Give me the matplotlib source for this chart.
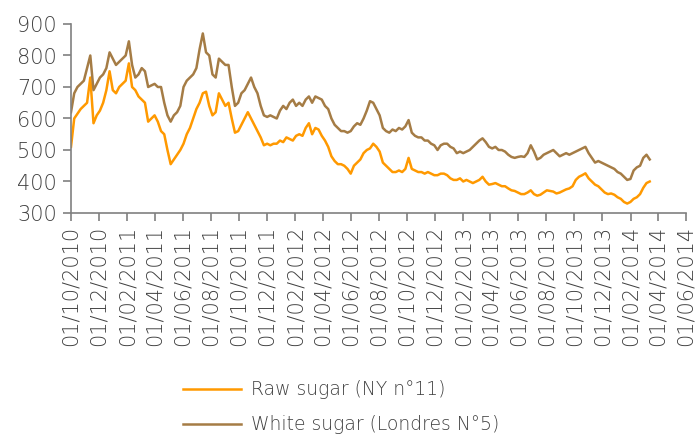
import matplotlib
matplotlib.use("Agg")
import matplotlib.pyplot as plt
import matplotlib.dates as mdates
import pandas as pd

# weekly readings, starting 01/10/2010
start_date = "2010-10-01"

raw_sugar = [
    510, 600, 615, 630, 640, 650, 730, 585, 610, 625, 650, 690, 750, 690, 680, 700,
    710, 720, 775, 700, 690, 670, 660, 650, 590, 600, 610, 590, 560, 550, 500, 455,
    470, 485, 500, 520, 550, 570, 600, 630, 650, 680, 685, 640, 610, 620, 680, 660,
    640, 650, 600, 555, 560, 580, 600, 620, 600, 580, 560, 540, 515, 520, 515, 520,
    520, 530, 525, 540, 535, 530, 545, 550, 545, 570, 585, 550, 570, 565, 545, 530,
    510, 480, 465, 455, 455, 450, 440, 425, 450, 460, 470, 490, 500, 505, 520, 510,
    495, 460, 450, 440, 430, 430, 435, 430, 440, 475, 440, 435, 430, 430, 425, 430,
    425, 420, 420, 425, 425, 420, 410, 405, 405, 410, 400, 405, 400, 395, 400, 405,
    415, 400, 390, 392, 395, 390, 385, 385, 378, 372, 370, 365, 360, 360, 365, 372,
    360, 355, 358, 365, 372, 370, 368, 362, 365, 370, 375, 378, 385, 405, 415, 420,
    426, 410, 400, 390, 385, 375, 365, 360, 362, 358, 350, 345, 335, 330, 335, 345,
    350, 360, 380, 395, 400,
]

white_sugar = [
    620, 680, 700, 710, 720, 760, 800, 690, 710, 730, 740, 760, 810, 790, 770, 780,
    790, 800, 845, 770, 730, 740, 760, 750, 700, 705, 710, 700, 700, 650, 610, 590,
    610, 620, 640, 700, 720, 730, 740, 760, 820, 870, 810, 800, 740, 730, 790, 780,
    770, 770, 700, 640, 650, 680, 690, 710, 730, 700, 680, 640, 610, 605, 610, 605,
    600, 625, 640, 630, 650, 660, 640, 650, 640, 660, 670, 650, 670, 665, 660, 640,
    630, 600, 580, 570, 560, 560, 555, 560, 575, 585, 580, 600, 625, 655, 650, 630,
    610, 570, 560, 555, 565, 560, 570, 565, 575, 595, 555, 545, 540, 540, 530, 530,
    520, 515, 500, 515, 520, 520, 510, 505, 490, 495, 490, 495, 500, 510, 520, 530,
    537, 525, 510, 505, 510, 500, 500, 495, 485, 478, 475, 478, 480, 478, 490, 515,
    495, 470, 475, 485, 490, 495, 500, 490, 480, 485, 490, 485, 490, 495, 500, 505,
    510, 490, 475, 460, 465, 460, 455, 450, 445, 440, 430, 425, 415, 405, 408, 435,
    445, 450, 475, 485, 470,
]

dates = pd.date_range(start_date, periods=len(raw_sugar), freq="7D")

text_color = "#404040"
plt.rcParams["font.family"] = ["DejaVu Sans"]
plt.rcParams["font.weight"] = "light"
plt.rcParams["font.size"] = 15

fig = plt.figure(figsize=(6.98, 4.36), dpi=100)
ax = fig.add_axes([71 / 698, 1 - 213 / 436, (686 - 71) / 698, (213 - 24) / 436])

ax.plot(dates, raw_sugar, color="#FF9900", lw=1.8, label="Raw sugar (NY n°11)")
ax.plot(dates, white_sugar, color="#A57C45", lw=1.8, label="White sugar (Londres N°5)")

ax.set_ylim(300, 900)
ax.set_yticks(range(300, 901, 100))
ax.set_xlim(pd.Timestamp("2010-10-01"), pd.Timestamp("2014-06-01"))
ax.xaxis.set_major_locator(mdates.MonthLocator(bymonth=[2, 4, 6, 8, 10, 12]))
ax.xaxis.set_major_formatter(mdates.DateFormatter("%d/%m/%Y"))
plt.setp(ax.get_xticklabels(), rotation=90)

for side in ["top", "right"]:
    ax.spines[side].set_visible(False)
for side in ["left", "bottom"]:
    ax.spines[side].set_color("#808080")
    ax.spines[side].set_linewidth(1.2)
ax.tick_params(colors="#808080", labelcolor=text_color, length=6, width=1.2, pad=3)
ax.tick_params(axis="y", pad=4)

leg = fig.legend(loc="upper left", bbox_to_anchor=(0.262, 0.128), frameon=False,
                 handlelength=3.1, handletextpad=0.55, labelspacing=0.85, fontsize=13.5,
                 borderaxespad=0, borderpad=0)
for t in leg.get_texts():
    t.set_color(text_color)

fig.savefig("out.png", dpi=100)
